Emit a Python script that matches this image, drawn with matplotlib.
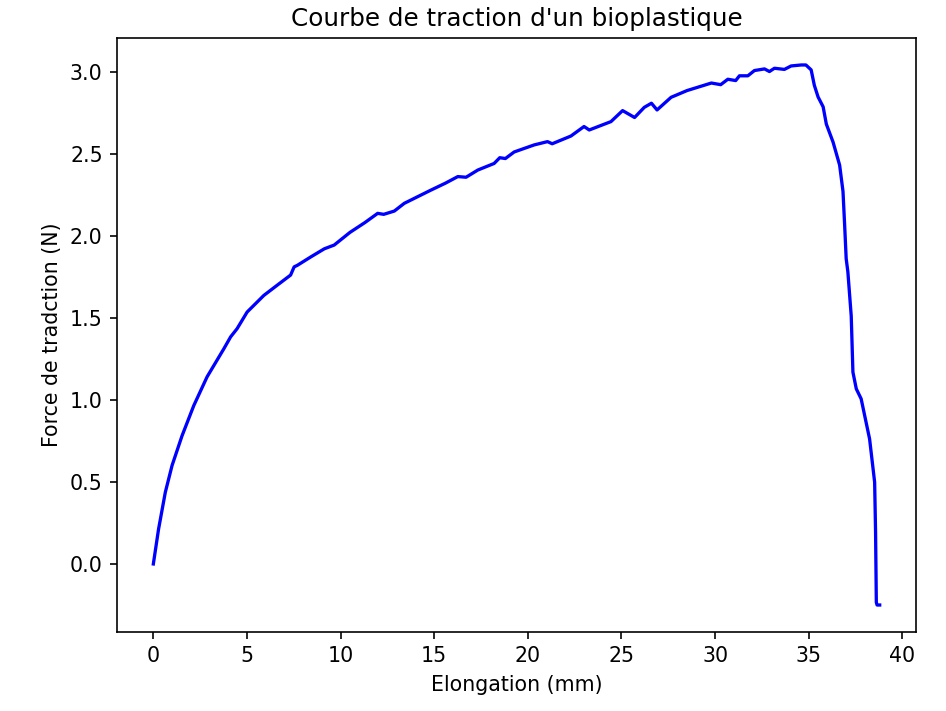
import matplotlib
matplotlib.use('Agg')
import matplotlib.pyplot as plt

# elongation (mm) and force (N)
elongation = [0.0, 0.28, 0.64, 1.0, 1.53, 2.16, 2.87, 3.76, 4.13, 4.47, 5.01, 5.9,
              6.6, 7.33, 7.52, 7.7, 8.4, 9.13, 9.66, 10.5, 11.3, 11.98, 12.3, 12.87,
              13.4, 14.83, 15.6, 16.26, 16.7, 17.33, 18.2, 18.5, 18.8, 19.27, 20.34,
              21.05, 21.3, 22.3, 23.0, 23.28, 24.44, 25.06, 25.7, 26.22, 26.6, 26.9,
              27.65, 28.5, 29.8, 30.3, 30.68, 31.1, 31.3, 31.75, 32.1, 32.64, 32.9,
              33.17, 33.7, 34.06, 34.6, 34.85, 35.13, 35.3, 35.5, 35.77, 35.94, 36.3,
              36.65, 36.83, 36.92, 37.0, 37.09, 37.27, 37.36, 37.54, 37.8, 38.25,
              38.52, 38.57, 38.61, 38.65, 38.79]
force = [0.0, 0.213, 0.437, 0.6, 0.78, 0.965, 1.14, 1.31, 1.384, 1.433, 1.535, 1.636,
         1.697, 1.76, 1.81, 1.82, 1.87, 1.92, 1.943, 2.02, 2.08, 2.136, 2.13, 2.15,
         2.197, 2.278, 2.32, 2.36, 2.356, 2.40, 2.44, 2.475, 2.47, 2.51, 2.553,
         2.573, 2.56, 2.607, 2.665, 2.644, 2.695, 2.762, 2.72, 2.782, 2.807, 2.766,
         2.843, 2.884, 2.93, 2.92, 2.953, 2.945, 2.974, 2.974, 3.006, 3.016, 3.0,
         3.02, 3.013, 3.034, 3.04, 3.04, 3.01, 2.916, 2.845, 2.785, 2.68, 2.57,
         2.43, 2.27, 2.06, 1.86, 1.78, 1.51, 1.169, 1.067, 1.006, 0.762,
         0.498, 0.193, -0.234, -0.25, -0.25]

fig = plt.figure(figsize=(946/148, 711/148), dpi=148)
ax = fig.add_subplot(111)
fig.subplots_adjust(left=0.1237, right=0.9683, top=0.9466, bottom=0.1111)

ax.plot(elongation, force, color='b', linewidth=1.6)
ax.set_title("Courbe de traction d'un bioplastique")
ax.set_xlabel('Elongation (mm)')
ax.set_ylabel('Force de tradction (N)')

fig.savefig('out.png', dpi=148)
